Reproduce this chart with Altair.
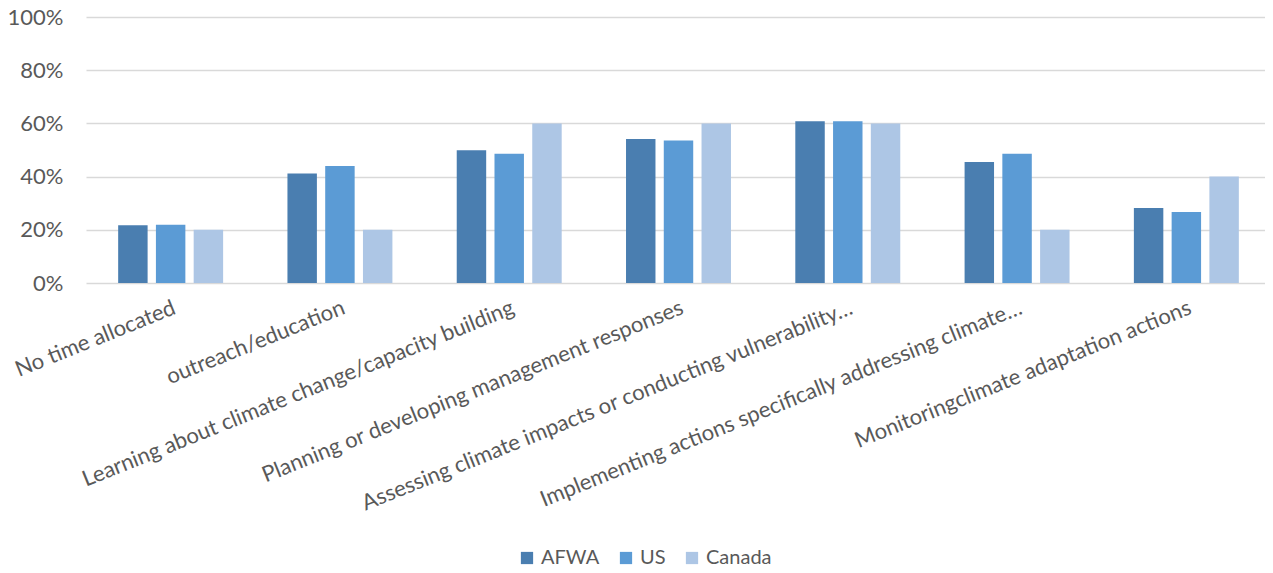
import altair as alt
import pandas as pd

categories = [
    "No time allocated",
    "outreach/education",
    "Learning about climate change/capacity building",
    "Planning or developing management responses",
    "Assessing climate impacts or conducting vulnerability…",
    "Implementing actions specifically addressing climate…",
    "Monitoringclimate adaptation actions",
]
series = ["AFWA", "US", "Canada"]
afwa = [0.217, 0.412, 0.499, 0.541, 0.608, 0.455, 0.282]
us = [0.219, 0.440, 0.486, 0.536, 0.608, 0.486, 0.267]
canada = [0.20, 0.20, 0.60, 0.60, 0.60, 0.20, 0.40]
colors = ["#4a7eb0", "#5b9bd5", "#adc6e5"]

rows = []
for name, vals in zip(series, [afwa, us, canada]):
    for c, v in zip(categories, vals):
        rows.append({"category": c, "series": name, "value": v})
df = pd.DataFrame(rows)

font = "Lato"
grey = "#595959"

chart = alt.Chart(df).mark_bar().encode(
    x=alt.X("category:N", sort=categories, title=None,
            scale=alt.Scale(paddingInner=0.38, paddingOuter=0.19),
            axis=alt.Axis(labelAngle=-22, labelFontSize=22, labelColor=grey,
                          labelFont=font, ticks=False, domain=False,
                          labelPadding=14, labelLimit=1000)),
    xOffset=alt.XOffset("series:N", sort=series,
                        scale=alt.Scale(paddingInner=0.22)),
    y=alt.Y("value:Q", title=None,
            scale=alt.Scale(domain=[0, 1]),
            axis=alt.Axis(format=".0%", values=[0, 0.2, 0.4, 0.6, 0.8, 1.0],
                          labelFontSize=22, labelColor=grey, labelFont=font,
                          ticks=False, domain=False, labelPadding=23,
                          gridColor="#d9d9d9", gridWidth=1.5)),
    color=alt.Color("series:N", sort=series,
                    scale=alt.Scale(domain=series, range=colors),
                    legend=alt.Legend(title=None, orient="none", direction="horizontal",
                                      legendX=431, legendY=531,
                                      labelFontSize=20, labelColor=grey, labelFont=font,
                                      symbolType="square", symbolSize=150,
                                      symbolStrokeWidth=0, columnPadding=16)),
).properties(
    width=1185, height=266,
    padding={"left": 78, "top": 9, "right": -6, "bottom": 282},
    autosize=alt.AutoSizeParams(type="none"),
).configure_view(stroke=None)

chart.save("out.html", embed_options={"renderer": "svg", "actions": False})
